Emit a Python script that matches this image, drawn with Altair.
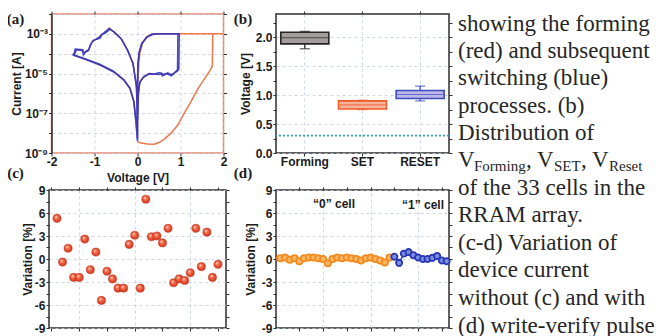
import altair as alt
import pandas as pd

SANS = "Liberation Sans"
SERIF = "Liberation Serif"
INK = "#1b1b1b"
FRAME = "#2e2e2e"
GRIDC = "#c3cde0"
RED = "#f0764c"
BLUE1 = "#3450d2"
BLUE2 = "#4b37a9"

# ---------------- (a) I-V curves : voltage and log10(current) ----------------
red_v = [0.00, 0.08, 0.23, 0.39, 0.51, 0.63, 0.78, 0.94, 1.09, 1.25, 1.41, 1.56, 1.70,
         1.74, 1.75, 2.00, 1.40, 0.80, 0.47, 0.33, 0.21, 0.12, 0.06, 0.03, 0.01]
red_logi = [-8.42, -8.50, -8.55, -8.56, -8.46, -8.29, -8.00, -7.58, -6.98, -6.39, -5.75,
            -5.25, -4.80, -4.62, -3.00, -3.00, -3.00, -3.00, -3.00, -3.02, -3.15, -3.45,
            -3.90, -4.50, -5.40]
blue1_v = [0.00, 0.00, 0.01, 0.02, 0.05, 0.13, 0.25, 0.37, 0.45, 0.52, 0.58, 0.64, 0.71,
           0.79, 0.87, 0.93, 0.94, 0.44, 0.33, 0.21, 0.09, 0.03, 0.01, 0.00, 0.00, -0.01,
           -0.02, -0.10, -0.22, -0.37, -0.53, -0.64, -0.70, -0.76, -0.82, -0.87, -0.93,
           -1.00, -1.05, -1.10, -1.15, -1.22, -1.26, -1.27, -1.45, -1.47, -1.50, -1.19,
           -0.88, -0.57, -0.33, -0.18, -0.09, -0.04, 0.00]
blue1_logi = [-8.40, -7.60, -6.80, -6.00, -5.46, -5.20, -5.04, -5.04, -4.98, -4.95, -5.12,
              -5.00, -5.04, -5.12, -4.95, -4.87, -3.00, -3.00, -3.02, -3.18, -3.52, -4.02,
              -4.60, -5.60, -8.40, -6.60, -5.70, -4.53, -3.86, -3.27, -2.93, -2.76, -2.88,
              -2.97, -3.02, -3.22, -3.26, -3.30, -3.38, -3.58, -3.86, -3.92, -4.05, -3.80,
              -3.76, -3.98, -4.05, -4.28, -4.53, -4.87, -5.29, -5.71, -6.38, -7.39, -8.40]
blue2_v = [0.00, 0.00, 0.01, 0.03, 0.06, 0.15, 0.27, 0.40, 0.50, 0.56, 0.62, 0.70, 0.78,
           0.85, 0.91, 0.96, 0.97, 0.46, 0.35, 0.23, 0.11, 0.04, 0.01, 0.00, 0.00, -0.01,
           -0.03, -0.11, -0.24, -0.39, -0.55, -0.66, -0.72, -0.78, -0.84, -0.90, -0.97,
           -1.03, -1.08, -1.13, -1.20, -1.24, -1.30, -1.42, -1.46, -1.48, -1.17, -0.86,
           -0.55, -0.31, -0.17, -0.08, -0.03, 0.00]
blue2_logi = [-8.30, -7.40, -6.60, -5.80, -5.40, -5.15, -5.00, -5.02, -5.05, -4.98, -5.08,
              -4.96, -5.05, -4.98, -4.85, -4.80, -3.00, -3.00, -3.03, -3.15, -3.45, -3.95,
              -4.55, -5.50, -8.30, -6.50, -5.55, -4.45, -3.80, -3.22, -2.90, -2.72, -2.84,
              -2.95, -3.05, -3.18, -3.28, -3.34, -3.50, -3.80, -3.88, -4.00, -3.82, -3.80,
              -4.00, -4.08, -4.32, -4.58, -4.92, -5.34, -5.78, -6.45, -7.45, -8.30]
a_xticks = [-2, -1, 0, 1, 2]
a_yticks = [-9, -8, -7, -6, -5, -4, -3, -2]
a_ylabels = {-9: "10⁻⁹", -7: "10⁻⁷", -5: "10⁻⁵", -3: "10⁻³"}

# ---------------- (b) voltage distributions ----------------
b_cats = ["Forming", "SET", "RESET"]
b_lo = [1.80, 0.75, 0.90]
b_q1 = [1.885, 0.76, 0.94]
b_med = [1.99, 0.83, 1.01]
b_q3 = [2.085, 0.90, 1.08]
b_hi = [2.10, 0.91, 1.155]
b_fill = ["#a39d9b", "#f6b39c", "#bdb6e6"]
b_edge = ["#262626", "#f05a28", "#3a4cc0"]
b_ref = [0.3]
b_yticks = [0, 0.25, 0.5, 0.75, 1.0, 1.25, 1.5, 1.75, 2.0, 2.25]

# ---------------- (c) variation without write-verify ----------------
c_vals = [5.3, -0.4, 1.4, -2.4, -2.4, 2.6, -1.4, 0.9, -5.4, -1.6, -2.6, -3.8, -3.8, 1.9,
          3.1, -3.8, 7.8, 2.9, 3.0, 2.1, 4.0, -3.1, -2.6, -2.8, -1.8, 4.0, -1.0, 3.5,
          -2.4, -0.7]
cd_yticks = [-9, -7.5, -6, -4.5, -3, -1.5, 0, 1.5, 3, 4.5, 6, 7.5, 9]

# ---------------- (d) variation with write-verify ----------------
d_zero = [0.1, 0.2, -0.1, 0.1, -0.3, 0.1, 0.2, 0.2, 0.1, 0.0, -0.55, 0.0, 0.2, 0.1, 0.2,
          0.1, 0.0, -0.2, 0.1, 0.2, 0.0, -0.2, -0.45, 0.2]
d_one = [0.3, -0.5, 0.7, 0.9, 0.5, 0.2, 0.0, 0.0, 0.15, 0.4, -0.2, -0.3]
d_split = [24.5]

# ---------------- caption text ----------------
cap_block1 = ["showing the forming", "(red) and subsequent", "switching (blue)",
              "processes. (b)", "Distribution of"]
cap_block2 = ["of the 33 cells in the", "RRAM array.", "(c-d) Variation of",
              "device current", "without (c) and with", "(d) write-verify pulse"]
cap_sub = [("V", "big"), ("Forming", "sub"), (", V", "big"), ("SET", "sub"),
           (", V", "big"), ("Reset", "sub")]


def ax(**kw):
    base = dict(labelFont=SANS, labelFontSize=12, labelFontWeight="bold", labelColor=INK,
                titleFont=SANS, titleFontSize=12, titleFontWeight="bold", titleColor=INK,
                domain=False, tickColor=FRAME, tickSize=3, tickWidth=1,
                gridColor=GRIDC, gridDash=[3, 3], gridWidth=0.8,
                labelFlush=False, labelOverlap=False)
    base.update(kw)
    return alt.Axis(**base)


def mirror_axes(xvals=None, yvals=None):
    xa = dict(orient="top", labels=False, title=None, grid=False, domain=False,
              tickSize=3, tickColor=FRAME, tickWidth=1)
    ya = dict(orient="right", labels=False, title=None, grid=False, domain=False,
              tickSize=3, tickColor=FRAME, tickWidth=1)
    if xvals is not None:
        xa["values"] = xvals
    if yvals is not None:
        ya["values"] = yvals
    return alt.Axis(**xa), alt.Axis(**ya)


def label(text, x, y, size=15, font=SERIF, weight="bold", align="center",
          baseline="middle", color=INK, line_height=None):
    kw = dict(font=font, fontSize=size, fontWeight=weight, align=align,
              baseline=baseline, color=color)
    if line_height is not None:
        kw["lineBreak"] = "\n"
        kw["lineHeight"] = line_height
    return alt.Chart(pd.DataFrame({"t": [text]})).mark_text(**kw).encode(
        text="t:N", x=alt.value(x), y=alt.value(y))


# ======================= panel (a) =======================
WA, HA = 172, 139
rows = []
for name, vs, ls in [("form", red_v, red_logi), ("sw1", blue1_v, blue1_logi),
                     ("sw2", blue2_v, blue2_logi)]:
    for k, (v, l) in enumerate(zip(vs, ls)):
        rows.append({"series": name, "k": k, "v": v, "logi": l})
a_df = pd.DataFrame(rows)
xs_a = alt.Scale(domain=[-2, 2], nice=False, zero=False)
ys_a = alt.Scale(domain=[-9, -2], nice=False, zero=False)
ylab_expr = " : ".join(f"datum.value == {k} ? '{v}'" for k, v in a_ylabels.items()) + " : ''"

a_lines = alt.Chart(a_df).mark_line(strokeWidth=1.5, clip=True).encode(
    x=alt.X("v:Q", scale=xs_a,
            axis=ax(orient="bottom", values=a_xticks, labelExpr="'' + datum.value",
                    title="Voltage [V]", titleY=24, titleBaseline="middle", grid=True,
                    labelPadding=0)),
    y=alt.Y("logi:Q", scale=ys_a,
            axis=ax(orient="left", values=a_yticks, labelExpr=ylab_expr,
                    title="Current [A]", titleX=-35.5, titleY=HA / 2,
                    titleBaseline="middle", titleAngle=270, grid=True, labelPadding=1,
                    domain=True, domainColor=FRAME, domainWidth=1.5)),
    color=alt.Color("series:N", scale=alt.Scale(domain=["form", "sw1", "sw2"],
                                                range=[RED, BLUE1, BLUE2]), legend=None),
    order="k:Q",
)
mx, my = mirror_axes(xvals=a_xticks, yvals=a_yticks)
a_mirror = alt.Chart(a_df).mark_point(opacity=0).encode(
    x=alt.X("v:Q", scale=xs_a, axis=mx), y=alt.Y("logi:Q", scale=ys_a, axis=my))
pa = alt.layer(
    a_mirror, a_lines,
    label("(a)", -36, 5), label("(c)", -36, 159),
).resolve_axis(x="independent", y="independent").properties(
    width=WA, height=HA,
    view=alt.ViewBackground(stroke="#e9866a", strokeWidth=1.5))

# ======================= panel (b) =======================
WB, HB = 173, 139
b_df = pd.DataFrame({"cat": b_cats, "lo": b_lo, "q1": b_q1, "med": b_med,
                     "q3": b_q3, "hi": b_hi})
xs_b = alt.Scale(domain=b_cats, paddingInner=0, paddingOuter=0)
ys_b = alt.Scale(domain=[0, 2.4], nice=False, zero=False)
bx = alt.X("cat:N", scale=xs_b, sort=b_cats, axis=None)
by_axis = ax(orient="left", values=b_yticks,
             labelExpr="datum.value % 0.5 == 0 ? format(datum.value, '.1f') : ''",
             title="Voltage [V]", titleX=-31, titleY=HB / 2, titleBaseline="middle",
             titleAngle=270, grid=True, labelPadding=1,
             gridOpacity={"condition": {"test": "datum.value % 0.5 == 0", "value": 1},
                          "value": 0})
bx_axis = ax(orient="bottom", labelAngle=0, title=None, grid=True, labelPadding=0,
             bandPosition=0.5)
mxb, myb = mirror_axes(yvals=b_yticks)
b_axes = alt.Chart(b_df).mark_point(opacity=0).encode(
    x=alt.X("cat:N", scale=xs_b, sort=b_cats, axis=bx_axis),
    y=alt.Y("med:Q", scale=ys_b, axis=by_axis))
b_mirror = alt.Chart(b_df).mark_point(opacity=0).encode(
    x=alt.X("cat:N", scale=xs_b, sort=b_cats, axis=mxb),
    y=alt.Y("med:Q", scale=ys_b, axis=myb))

box_layers = []
for i, cat in enumerate(b_cats):
    one = alt.Chart(b_df).transform_filter(alt.datum.cat == cat)
    edge, fill = b_edge[i], b_fill[i]
    box_layers += [
        one.mark_rule(strokeWidth=1.3, color=edge).encode(
            x=bx, y=alt.Y("lo:Q", scale=ys_b, axis=None), y2="hi:Q"),
        one.mark_bar(size=48, strokeWidth=1.6, fill=fill, stroke=edge).encode(
            x=bx, y=alt.Y("q1:Q", scale=ys_b, axis=None), y2="q3:Q"),
        one.mark_tick(size=10, thickness=1.3, orient="horizontal", color=edge).encode(
            x=bx, y=alt.Y("lo:Q", scale=ys_b, axis=None)),
        one.mark_tick(size=10, thickness=1.3, orient="horizontal", color=edge).encode(
            x=bx, y=alt.Y("hi:Q", scale=ys_b, axis=None)),
        one.mark_tick(size=46, thickness=1.2, orient="horizontal", color=edge).encode(
            x=bx, y=alt.Y("med:Q", scale=ys_b, axis=None)),
    ]
b_refline = alt.Chart(pd.DataFrame({"y": b_ref})).mark_rule(
    color="#2a9fb0", strokeWidth=1.6, strokeDash=[2, 2]).encode(
    y=alt.Y("y:Q", scale=ys_b, axis=None))

# caption text (to the right of panel b)
TX = 182
LH = 27.6
cap_layers = [
    label("\n".join(cap_block1), TX, 17, size=23, font=SERIF, weight="normal",
          align="left", baseline="alphabetic", color="#262626", line_height=LH - 0.4),
    label("\n".join(cap_block2), TX, 15 + 6 * LH, size=23, font=SERIF, weight="normal",
          align="left", baseline="alphabetic", color="#262626", line_height=LH),
]
sub_x = [182, 198, 250, 278, 305, 333]
for (txt, kind), xx in zip(cap_sub, sub_x):
    big = kind == "big"
    cap_layers.append(label(txt, xx, 15 + 5 * LH + (0 if big else 4),
                            size=23 if big else 15, font=SERIF, weight="normal",
                            align="left", baseline="alphabetic", color="#262626"))

pb = alt.layer(
    b_mirror, b_axes, *box_layers, b_refline,
    label("(b)", -33, 5), label("(d)", -33, 159), *cap_layers,
).resolve_axis(x="independent", y="independent").properties(width=WB, height=HB)

# ======================= panel (c) =======================
WC, HC = 177, 138
c_df = pd.DataFrame({"idx": list(range(1, len(c_vals) + 1)), "val": c_vals})
xs_c = alt.Scale(domain=[-0.44, 31.44], nice=False, zero=False)
ys_cd = alt.Scale(domain=[-9, 9], nice=False, zero=False)
c_xticks = [0, 5, 10, 15, 20, 25, 30]
cd_yaxis_kw = dict(orient="left", values=cd_yticks,
                   labelExpr="datum.value % 3 == 0 ? '' + datum.value : ''",
                   title="Variation [%]", titleY=HC / 2, titleBaseline="middle",
                   titleAngle=270, grid=True, labelPadding=1,
                   gridOpacity={"condition": {"test": "datum.value % 3 == 0", "value": 1},
                                "value": 0})
sphere = alt.RadialGradient(
    gradient="radial",
    stops=[alt.GradientStop(color="#ffe0d2", offset=0),
           alt.GradientStop(color="#f46a4a", offset=0.4),
           alt.GradientStop(color="#cf2c14", offset=1)],
    x1=0.35, y1=0.3, r1=0, x2=0.5, y2=0.5, r2=0.55)
c_pts = alt.Chart(c_df).mark_circle(size=66, fill=sphere, opacity=1, stroke="#b8301c",
                                    strokeWidth=0.5).encode(
    x=alt.X("idx:Q", scale=xs_c,
            axis=ax(orient="bottom", values=c_xticks, labels=False, title=None, grid=True,
                    gridOpacity={"condition": {"test": "datum.value % 10 == 5",
                                               "value": 1}, "value": 0})),
    y=alt.Y("val:Q", scale=ys_cd, axis=ax(titleX=-22, **cd_yaxis_kw)))
mxc, myc = mirror_axes(xvals=c_xticks, yvals=cd_yticks)
c_mirror = alt.Chart(c_df).mark_point(opacity=0).encode(
    x=alt.X("idx:Q", scale=xs_c, axis=mxc), y=alt.Y("val:Q", scale=ys_cd, axis=myc))
pc = alt.layer(c_mirror, c_pts).resolve_axis(
    x="independent", y="independent").properties(width=WC, height=HC)

# ======================= panel (d) =======================
WD, HD = 173, 138
n0 = len(d_zero)
d0_df = pd.DataFrame({"idx": list(range(1, n0 + 1)), "val": d_zero})
d1_df = pd.DataFrame({"idx": list(range(n0 + 1, n0 + len(d_one) + 1)), "val": d_one})
xs_d = alt.Scale(domain=[0.1, 36.5], nice=False, zero=False)
d_xticks = [5, 10, 15, 20, 25, 30, 35]
d_x_main = alt.X("idx:Q", scale=xs_d,
                 axis=ax(orient="bottom", values=d_xticks, labels=False, title=None,
                         grid=True,
                         gridOpacity={"condition": {"test": "datum.value % 10 == 0",
                                                    "value": 1}, "value": 0}))
d_x = alt.X("idx:Q", scale=xs_d, axis=None)
d_y = alt.Y("val:Q", scale=ys_cd, axis=None)
d_rule = alt.Chart(pd.DataFrame({"x": d_split})).mark_rule(
    color="#333333", strokeWidth=1, strokeDash=[3, 2]).encode(
    x=d_x_main, y=alt.value(0), y2=alt.value(HD))
d_axes_layer = alt.Chart(d0_df).mark_line(strokeWidth=1.4, color="#f5a040").encode(
    x=d_x, y=alt.Y("val:Q", scale=ys_cd, axis=ax(titleX=-26, **cd_yaxis_kw)))
d0_pts = alt.Chart(d0_df).mark_point(filled=False, size=40, strokeWidth=1.8, opacity=1,
                                     stroke="#f28a1e", fill="#f9b768").encode(x=d_x, y=d_y)
d1_line = alt.Chart(d1_df).mark_line(strokeWidth=1.4, color="#3444b8").encode(x=d_x, y=d_y)
d1_pts = alt.Chart(d1_df).mark_point(filled=False, size=38, strokeWidth=1.8, opacity=1,
                                     stroke="#2838b0", fill="#7c8ce2").encode(x=d_x, y=d_y)
mxd, myd = mirror_axes(xvals=d_xticks, yvals=cd_yticks)
d_mirror = alt.Chart(d0_df).mark_point(opacity=0).encode(
    x=alt.X("idx:Q", scale=xs_d, axis=mxd), y=alt.Y("val:Q", scale=ys_cd, axis=myd))
pdd = alt.layer(
    d_mirror, d_rule, d_axes_layer, d0_pts, d1_line, d1_pts,
    label("\u201c0\u201d cell", 58, 14, size=12, font=SANS),
    label("\u201c1\u201d cell", 147, 15, size=12, font=SANS),
).resolve_axis(x="independent", y="independent").properties(width=WD, height=HD)

chart = alt.concat(
    pa, pb, pc, pdd, columns=2, spacing={"row": 37, "column": 50},
    bounds="flush", center=True,
).properties(
    padding={"left": -2, "top": -1, "right": 0, "bottom": 0},
    background="white",
).configure(font=SANS).configure_view(stroke=FRAME, strokeWidth=1.5)

chart.save("out.html", embed_options={"renderer": "svg", "actions": False})
